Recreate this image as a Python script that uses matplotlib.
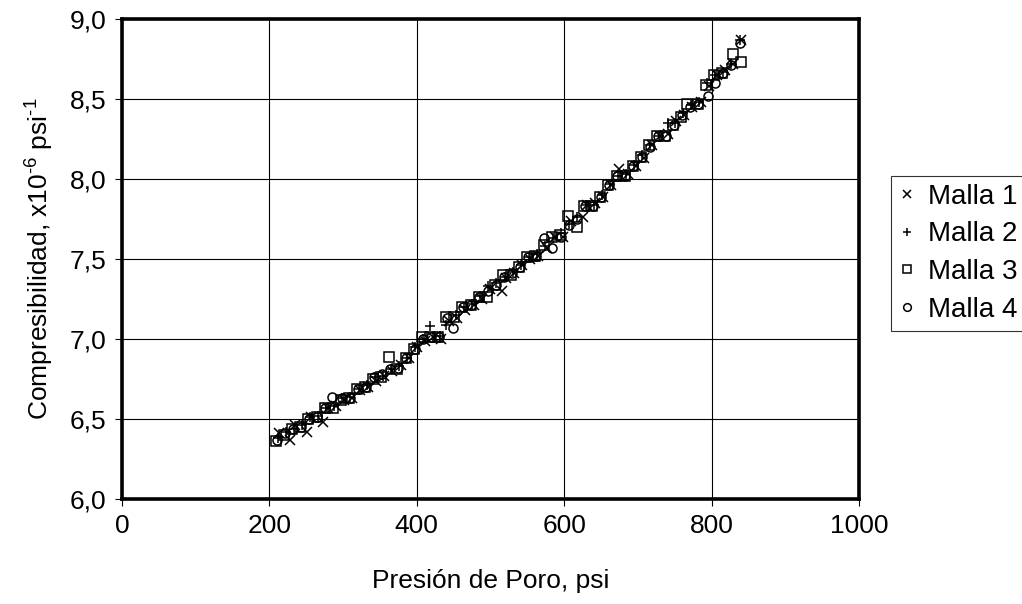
import matplotlib
matplotlib.use("Agg")
import matplotlib.pyplot as plt
from matplotlib.ticker import FuncFormatter

plt.rcParams['font.family'] = ['Liberation Sans', 'DejaVu Sans']
plt.rcParams['mathtext.fontset'] = 'custom'
plt.rcParams['mathtext.rm'] = 'Liberation Sans'
plt.rcParams['mathtext.it'] = 'Liberation Sans'

# === Data ===
x_malla1 = [213, 228, 235, 251, 257, 273, 279, 290, 301, 312, 323, 334, 345, 356, 367,
            378, 389, 400, 411, 422, 433, 444, 455, 466, 477, 488, 499, 515, 521, 532,
            543, 554, 565, 576, 587, 598, 609, 625, 631, 642, 653, 664, 675, 686, 697,
            708, 719, 730, 741, 752, 763, 774, 785, 796, 807, 818, 829, 840]
y_malla1 = [6.41, 6.37, 6.46, 6.42, 6.51, 6.48, 6.57, 6.58, 6.62, 6.63, 6.68, 6.70, 6.74, 6.77, 6.80,
            6.84, 6.88, 6.95, 6.99, 7.01, 7.00, 7.11, 7.13, 7.18, 7.21, 7.25, 7.31, 7.30, 7.38, 7.41,
            7.46, 7.50, 7.52, 7.57, 7.64, 7.64, 7.74, 7.76, 7.84, 7.85, 7.89, 7.96, 8.06, 8.03, 8.08,
            8.13, 8.21, 8.27, 8.28, 8.36, 8.40, 8.45, 8.48, 8.58, 8.65, 8.68, 8.72, 8.87]

x_malla2 = [211, 222, 233, 244, 255, 266, 277, 288, 299, 310, 321, 332, 343, 354, 365,
            376, 387, 398, 409, 418, 431, 440, 453, 464, 475, 486, 497, 508, 519, 530,
            541, 552, 563, 574, 585, 596, 607, 618, 629, 640, 651, 662, 673, 684, 695,
            706, 717, 728, 741, 750, 761, 772, 783, 794, 805, 816, 827, 838]
y_malla2 = [6.38, 6.42, 6.44, 6.46, 6.51, 6.52, 6.57, 6.58, 6.63, 6.64, 6.69, 6.71, 6.76, 6.77, 6.81,
            6.83, 6.88, 6.95, 7.00, 7.08, 7.02, 7.09, 7.15, 7.20, 7.22, 7.27, 7.33, 7.35, 7.39, 7.42,
            7.46, 7.51, 7.53, 7.58, 7.63, 7.66, 7.72, 7.76, 7.84, 7.84, 7.90, 7.97, 8.02, 8.03, 8.09,
            8.15, 8.21, 8.27, 8.35, 8.35, 8.41, 8.46, 8.48, 8.60, 8.65, 8.67, 8.72, 8.87]

x_malla3 = [209, 220, 231, 242, 253, 264, 275, 286, 297, 308, 319, 330, 341, 352, 362,
            373, 385, 396, 407, 418, 429, 440, 451, 462, 473, 484, 495, 506, 517, 528,
            539, 550, 561, 572, 583, 594, 605, 617, 627, 638, 649, 660, 671, 682, 693,
            704, 715, 726, 737, 748, 759, 767, 781, 792, 803, 814, 829, 840]
y_malla3 = [6.36, 6.40, 6.44, 6.45, 6.50, 6.51, 6.57, 6.57, 6.62, 6.63, 6.69, 6.70, 6.75, 6.76, 6.89,
            6.81, 6.88, 6.94, 7.01, 7.01, 7.01, 7.14, 7.14, 7.20, 7.21, 7.26, 7.26, 7.34, 7.40, 7.40,
            7.45, 7.51, 7.52, 7.59, 7.64, 7.65, 7.77, 7.70, 7.83, 7.83, 7.89, 7.96, 8.02, 8.02, 8.08,
            8.14, 8.21, 8.27, 8.27, 8.34, 8.39, 8.47, 8.47, 8.59, 8.65, 8.66, 8.78, 8.73]

x_malla4 = [210, 221, 232, 243, 254, 265, 276, 285, 298, 309, 320, 331, 342, 353, 364,
            375, 386, 397, 408, 419, 430, 441, 449, 463, 474, 485, 496, 507, 518, 529,
            540, 551, 562, 573, 584, 595, 606, 617, 628, 639, 650, 661, 672, 683, 694,
            705, 716, 727, 738, 749, 760, 771, 782, 795, 804, 815, 826, 838]
y_malla4 = [6.37, 6.41, 6.44, 6.45, 6.50, 6.51, 6.57, 6.64, 6.63, 6.63, 6.69, 6.70, 6.76, 6.78, 6.81,
            6.82, 6.88, 6.94, 7.00, 7.01, 7.01, 7.13, 7.07, 7.20, 7.21, 7.26, 7.30, 7.34, 7.39, 7.41,
            7.45, 7.51, 7.52, 7.63, 7.57, 7.64, 7.71, 7.75, 7.83, 7.83, 7.89, 7.96, 8.02, 8.02, 8.08,
            8.14, 8.20, 8.27, 8.27, 8.34, 8.40, 8.45, 8.47, 8.52, 8.60, 8.66, 8.71, 8.85]

series = [
    (x_malla1, y_malla1, 'x', "Malla 1"),
    (x_malla2, y_malla2, '+', "Malla 2"),
    (x_malla3, y_malla3, 's', "Malla 3"),
    (x_malla4, y_malla4, 'o', "Malla 4"),
]

x_ticks = [0, 200, 400, 600, 800, 1000]
y_ticks = [6.0, 6.5, 7.0, 7.5, 8.0, 8.5, 9.0]

FS = 19

# === Plot ===
fig = plt.figure(figsize=(10.22, 6.04), dpi=100)
ax = fig.add_axes([122 / 1022, 1 - 499 / 604, (859 - 122) / 1022, (499 - 19) / 604])

for xs, ys, mk, lab in series:
    ax.plot(xs, ys, linestyle='none', marker=mk, markersize=6.5, markerfacecolor='none',
            markeredgecolor='black', markeredgewidth=1.1, color='black', label=lab)

ax.set_xlim(0, 1000)
ax.set_ylim(6.0, 9.0)
ax.set_xticks(x_ticks)
ax.set_yticks(y_ticks)
ax.yaxis.set_major_formatter(FuncFormatter(lambda v, p: f"{v:.1f}".replace('.', ',')))
ax.tick_params(direction='out', length=5, width=0.8, labelsize=FS, colors='black', pad=6)
ax.grid(True, color='black', linewidth=0.8)
ax.set_axisbelow(True)
for sp in ax.spines.values():
    sp.set_linewidth(2.6)
    sp.set_color('black')

ax.set_xlabel("Presión de Poro, psi", fontsize=FS, labelpad=22)
ax.set_ylabel(r"Compresibilidad, x10$^{\text{-6}}$ psi$^{\text{-1}}$", fontsize=FS, labelpad=10)

leg = ax.legend(loc='upper left', bbox_to_anchor=(891 / 1022, 1 - 176 / 604),
                bbox_transform=fig.transFigure, fontsize=20, frameon=True, fancybox=False,
                borderpad=0.28, labelspacing=0.42, handlelength=0.6, handletextpad=0.45,
                borderaxespad=0, markerscale=0.85)
leg.get_frame().set_edgecolor('black')
leg.get_frame().set_linewidth(0.8)

fig.savefig("out.png", dpi=100)
